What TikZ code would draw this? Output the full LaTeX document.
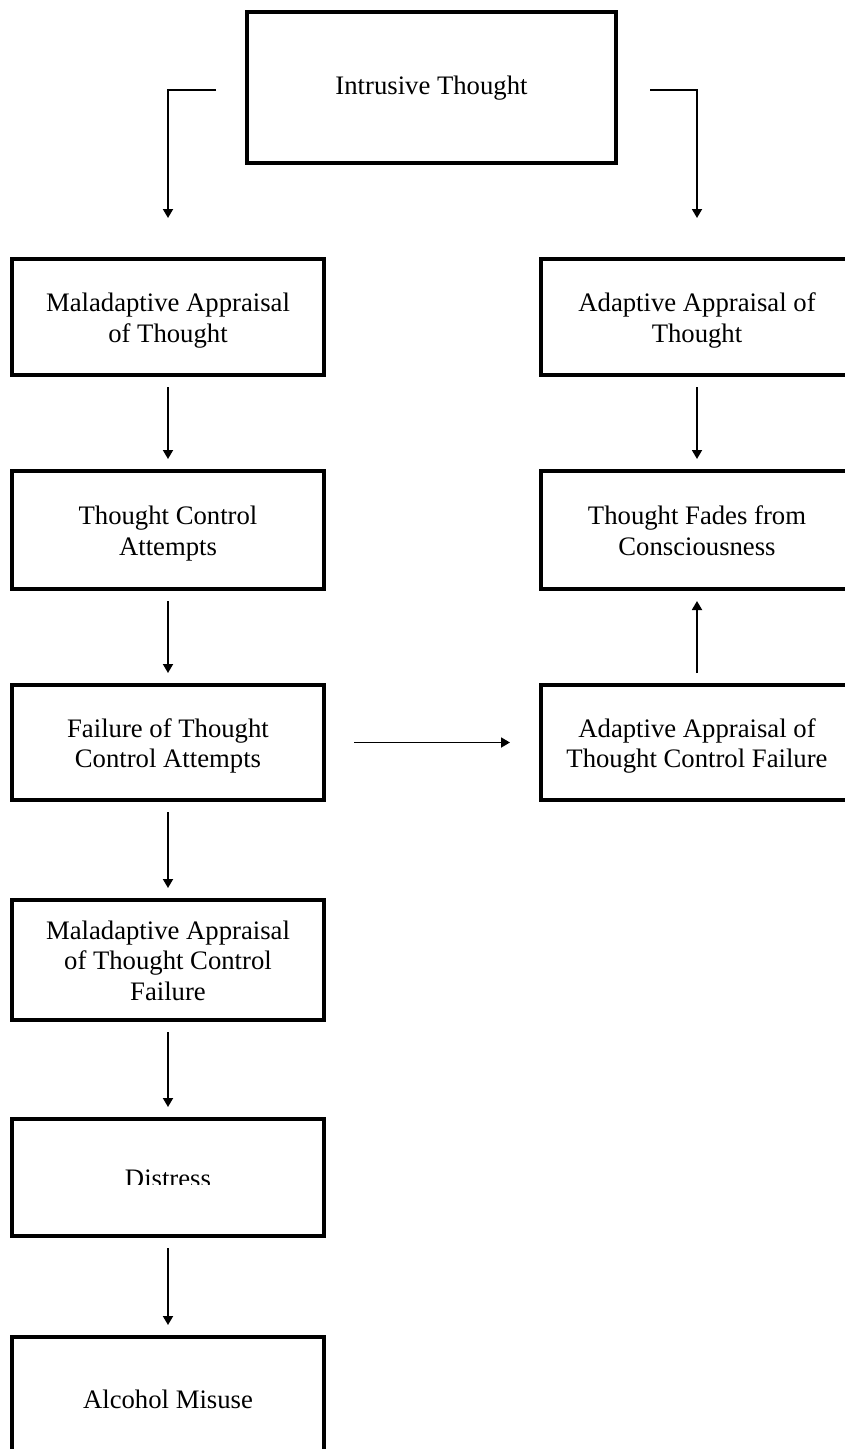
\documentclass[tikz,border=0pt]{standalone}
\usepackage{fontspec}
\setmainfont{Liberation Serif}
\usetikzlibrary{arrows.meta}
% fixed top and bottom struts so every label block has the same extent
\newcommand\labtop{\rule{0pt}{19pt}}
\newcommand\labbot{\rule[-6pt]{0pt}{6pt}}
\begin{document}
\begin{tikzpicture}[x=1pt,y=-1pt,
  box/.style={draw, line width=4pt, rectangle, inner sep=0pt, outer sep=0pt,
    minimum width=312pt},
  lab/.style={inner sep=0pt, align=center, yshift=-3.5pt,
    font=\fontsize{26.7pt}{30.5pt}\selectfont,
    execute at begin node=\labtop, execute at end node=\labbot},
  arr/.style={line width=1.8pt, -{Triangle[width=10pt,length=9pt]},
    shorten <=12pt, shorten >=12pt}]
\useasboundingbox (0,0) rectangle (845,1449);
\clip (0,0) rectangle (845,1449);

% top box
\node[box, minimum width=369pt, minimum height=151pt] (it) at (431.5,87.5) {};
\node[lab, yshift=3.5pt] (itl) at (it.center) {Intrusive Thought};

% left column
\node[box, minimum height=116pt] (m1) at (168,317) {};
\node[box, minimum height=118pt] (m2) at (168,530) {};
\node[box, minimum height=115pt] (m3) at (168,742.5) {};
\node[box, minimum height=120pt] (m4) at (168,960) {};
\node[box, minimum height=117pt] (m5) at (168,1177.5) {};
\node[box, minimum height=122pt] (m6) at (168,1398) {};
\node[lab] (m1l) at (m1.center) {Maladaptive Appraisal\\of Thought};
\node[lab] (m2l) at (m2.center) {Thought Control\\Attempts};
\node[lab] (m3l) at (m3.center) {Failure of Thought\\Control Attempts};
\node[lab] (m4l) at (m4.center) {Maladaptive Appraisal\\of Thought Control\\Failure};
\node[lab] (m6l) at (m6.center) {Alcohol Misuse};

% the Distress label is cut off just above its baseline
\begin{scope}
  \clip (20,1130) rectangle (316,1184);
  \node[lab] (m5l) at (m5.center) {Distress};
\end{scope}

% right column
\node[box, minimum height=116pt] (a1) at (697,317) {};
\node[box, minimum height=118pt] (a2) at (697,530) {};
\node[box, minimum height=115pt] (a3) at (697,742.5) {};
\node[lab] (a1l) at (a1.center) {Adaptive Appraisal of\\Thought};
\node[lab] (a2l) at (a2.center) {Thought Fades from\\Consciousness};
\node[lab] (a3l) at (a3.center) {Adaptive Appraisal of\\Thought Control Failure};

% connectors from the top box
\coordinate (ls) at (216,90);
\coordinate (rs) at (650,90);
\draw[arr, shorten <=0pt, shorten >=41pt] (ls) -| (m1.north);
\draw[arr, shorten <=0pt, shorten >=41pt] (rs) -| (a1.north);

% left chain
\draw[arr] (m1.south) -- (m2.north);
\draw[arr] (m2.south) -- (m3.north);
\draw[arr] (m3.south) -- (m4.north);
\draw[arr] (m4.south) -- (m5.north);
\draw[arr] (m5.south) -- (m6.north);

% right chain
\draw[arr] (a1.south) -- (a2.north);
\draw[arr] (a3.north) -- (a2.south);
\draw[arr, shorten <=30pt, shorten >=31pt] (m3.east) -- (a3.west);
\end{tikzpicture}
\end{document}
